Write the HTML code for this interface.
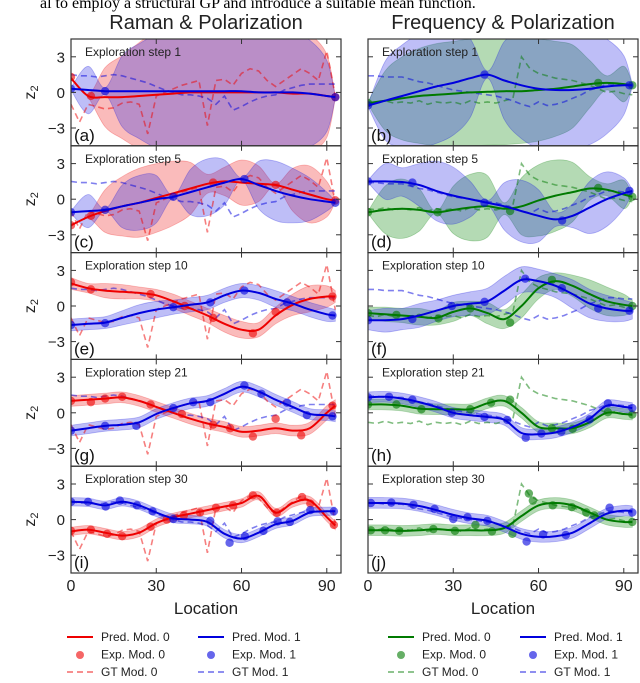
<!DOCTYPE html>
<html><head><meta charset="utf-8"><style>
html,body{margin:0;padding:0;background:#fff;}
svg{display:block;font-family:"Liberation Sans","DejaVu Sans",sans-serif;}
</style></head><body>
<svg id="chart" width="640" height="683" viewBox="0 0 640 683" xmlns="http://www.w3.org/2000/svg">
<text x="40" y="8" font-family="Liberation Serif, serif" font-size="16" fill="#000">al to employ a structural GP and introduce a suitable mean function.</text>
<g id="g"></g>
</svg>
<script>
const grid=[0,6,12,18,24,30,36,42,48,54,60,66,72,78,84,90,93];
const xTicks=[0,30,60,90];
const yTicks=[3,0,-3];
const colTitles=["Raman & Polarization","Frequency & Polarization"];
const steps=[1,5,10,21,30];
const labels=["a","b","c","d","e","f","g","h","i","j"];
// GT curves (x every 3)
const gtX=[0,3,6,9,12,15,18,21,24,27,30,33,36,39,42,45,48,51,54,57,60,63,66,69,72,75,78,81,84,87,90,93];
const gtL0=[-1,-2.5,-1,-1.2,-1.4,-1.3,-0.9,-0.8,-1,-3.5,-0.3,0,0.3,0.6,0.8,1,-2.8,1,1.1,0.6,1.6,2,1.8,1,0.5,1,1.5,2,1.6,1,3.5,-0.3];
const gtL1=[1.5,1.4,1.4,1.3,1.4,1.5,1.4,1.2,1,0.8,0.5,0.2,0,-0.2,-0.2,-0.3,-0.5,-1,-0.3,-1.5,-1.2,-0.8,-0.5,-0.3,-0.2,0.2,0.4,0.6,0.7,0.7,0.7,0.7];
const gtR0=[-0.8,-0.9,-0.7,-0.9,-0.8,-0.9,-0.7,-1,-0.8,-0.9,-0.8,-1,-0.7,-0.9,-0.8,-0.9,-0.7,-0.5,3,2,1.6,1.4,1.2,1.1,1,0.8,0.6,0.3,0,0.1,-0.1,-0.2];
const gtR1=[1.4,1.4,1.3,1.3,1.3,1.1,0.9,0.8,0.6,0.4,0.2,0.1,0,-0.1,-0.2,-0.3,-0.5,-0.7,-1,-1.2,-0.8,-1.1,-1,-0.8,-0.5,-0.2,0.2,0.4,0.7,0.7,0.6,0.6];
// panel a
const aM0=[1.2,-0.3,-0.4,-0.4,-0.3,-0.2,-0.1,0,0,0,0,0,0,-0.1,-0.1,-0.3,-0.4];
const aH0=[0.1,0.1,2.5,3.5,4.5,5.5,6,6,6,6,6,6,6,5.5,5,3.5,0.1];
const aM1=[0.3,0.2,0.1,0.1,0.1,0.1,0.1,0.1,0.1,0.1,0.1,0,0,0,-0.1,-0.3,-0.4];
const aH1=[0.1,2,0.3,3,4,4.8,5.3,5.5,5.5,5.5,5.5,5.5,5.3,5,4.5,3,0.1];
const aEx0=[0,7,93], aEy0=[1.3,-0.3,-0.4], aEx1=[0,12,93], aEy1=[0.3,0.1,-0.4];
// panel c
const cM0=[-2.2,-1.5,-1,-0.6,-0.3,0.1,0.5,0.9,1.3,1.5,1.4,1.3,1.2,0.8,0.4,0,-0.1];
const cH0=[0.1,0.1,1.8,2.5,2.9,2.9,2.7,2.2,0.8,1.2,1.9,1.5,0.1,1.8,2.4,1.5,0.1];
const cM1=[-1.1,-1,-0.9,-0.6,-0.3,0,0.2,0.6,1,1.4,1.7,1.2,0.7,0.3,0,-0.2,-0.3];
const cH1=[0.1,1.4,0.1,1.8,2.3,2,0.1,1.9,2.4,1.9,0.1,2,2.5,2.3,1.8,0.8,0.1];
const cEx0=[0,7,50,72,93], cEy0=[-2.2,-1.4,1.4,1.2,-0.1], cEx1=[0,12,36,61,93], cEy1=[-1.1,-0.9,0.2,1.7,-0.3];
// panel e
const eM0=[1.9,1.5,1.3,1.2,1.1,0.9,0.4,-0.2,-0.8,-1.5,-2,-2,-0.8,0.1,0.6,0.8,0.8];
const eH0=[0.5,0.4,0.6,0.6,0.5,0.5,0.6,0.6,0.6,0.7,0.7,0.6,0.7,0.9,1.1,0.9,0.5];
const eM1=[-1.6,-1.5,-1.4,-1,-0.6,-0.3,-0.1,0.1,0.3,0.9,1.3,1.1,0.6,0.2,-0.3,-0.7,-0.8];
const eH1=[0.5,0.5,0.5,0.6,0.7,0.7,0.6,0.6,0.6,0.6,0.6,0.6,0.7,0.6,0.6,0.6,0.5];
const eEx0=[0,7,28,40,50,64,72,92], eEy0=[2,1.4,1,0,-1,-2.3,-0.5,0.8], eEx1=[0,12,36,49,61,76,92], eEy1=[-1.6,-1.45,-0.1,0.3,1.3,0.3,-0.8];
// panel g
const gM0=[1,1.1,1.2,1.3,1,0.5,0,-0.5,-0.9,-1.2,-1.6,-1.5,-1.3,-1.5,-1.3,0,0.6];
const gH0=[0.45,0.45,0.45,0.45,0.45,0.45,0.45,0.45,0.45,0.45,0.45,0.45,0.45,0.45,0.5,0.6,0.5];
const gM1=[-1.5,-1.3,-1.1,-1,-0.8,-0.1,0.4,0.8,1,1.6,2.2,1.8,1.1,0.5,-0.1,-0.2,-0.3];
const gH1=[0.45,0.45,0.45,0.45,0.45,0.45,0.45,0.45,0.45,0.45,0.45,0.45,0.45,0.45,0.45,0.45,0.45];
const gEx0=[0,7,12,18,28,39,50,56,64,72,81,92], gEy0=[1,0.9,1.2,1.35,0.7,-0.1,-1,-1.3,-2,-0.5,-1.9,0.6];
const gEx1=[0,12,23,36,43,49,61,67,76,83,92], gEy1=[-1.5,-1.1,-1.1,0.4,0.9,0.9,2.3,1.6,0.85,-0.2,-0.3];
// panel i
const iM0=[-1,-0.85,-1.1,-1.35,-1.1,-0.3,0.2,0.5,0.8,1.1,1.4,2,0.6,1.4,1.6,0.2,-0.5];
const iH0=[0.35,0.35,0.35,0.35,0.35,0.35,0.35,0.35,0.35,0.35,0.35,0.35,0.35,0.35,0.35,0.35,0.35];
const iM1=[1.5,1.45,1.2,1.5,1.2,0.6,0.1,0,-0.2,-1.2,-1.6,-1.1,-0.4,-0.1,0.6,0.7,0.7];
const iH1=[0.35,0.35,0.35,0.35,0.35,0.35,0.35,0.35,0.35,0.35,0.35,0.35,0.35,0.35,0.35,0.35,0.35];
const iEx0=[0,7,12.7,18,28,33.7,39.7,45.4,51,57,64,72.4,81.3,84.2,92.5], iEy0=[-0.95,-0.85,-1.2,-1.4,-0.6,0,0.35,0.6,1,1.2,2.05,0.57,1.9,1.35,-0.45];
const iEx1=[0,6,12.2,17.2,23.2,28.7,36,49,55.8,61.2,67.7,72.7,77,84.2,92.5], iEy1=[1.5,1.5,1.1,1.6,1.2,0.7,0.05,-0.1,-1.95,-1.4,-0.95,-0.15,-0.2,0.8,0.7];
// panel b
const bM0=[-0.9,-0.7,-0.5,-0.3,-0.2,-0.1,0,0.05,0.1,0.1,0.2,0.3,0.5,0.7,0.8,0.7,0.6];
const bH0=[0.1,2.5,3.5,4,4.3,4.4,4.5,4.5,4.5,4.4,4.3,4,3.5,2,0.6,1.5,0.1];
const bM1=[-1.1,-0.7,-0.3,0.1,0.5,0.8,1.2,1.5,1,0.6,0.3,0.2,0.2,0.3,0.5,0.6,0.6];
const bH1=[0.1,3.3,4.3,4.8,4.8,4.4,3.3,0.3,3.3,4.5,5,5,5,4.7,4,2.5,0.1];
const bEx0=[0,81,93], bEy0=[-0.9,0.8,0.6], bEx1=[0,41,92], bEy1=[-1.1,1.5,0.6];
// panel d
const dM0=[-1.1,-0.9,-0.8,-0.9,-1.1,-0.9,-0.7,-0.6,-0.8,-0.6,-0.1,0.3,0.6,0.9,0.8,0.4,0.2];
const dH0=[0.1,2,2.5,1.8,0.1,2,2.8,2.6,0.5,2.4,3,3,2.5,1,0.5,1.2,0.1];
const dM1=[1.5,1.5,1.45,1.2,0.7,0.3,0,-0.3,-0.6,-1,-1.4,-1.7,-1.4,-0.7,0,0.5,0.7];
const dH1=[0.1,1.5,1.2,1.8,2.5,2.4,1.5,0.2,2,2.6,2.2,0.6,1,2.2,2.3,1.3,0.1];
const dEx0=[0,24.5,50,81,93], dEy0=[-1.1,-1.1,-1,0.95,0.2], dEx1=[0,15.6,41,68.3,92], dEy1=[1.5,1.4,-0.3,-1.8,0.7];
// panel f
const fM0=[-0.6,-0.7,-0.8,-0.9,-1,-0.5,-0.2,-0.6,-1.1,0,1.5,2.1,1.7,1,0.4,0.1,0];
const fH0=[0.5,0.6,0.6,0.7,0.6,0.8,0.6,0.9,0.8,1,0.9,0.7,0.9,1.2,1.2,0.9,0.5];
const fM1=[-1.2,-1.2,-1.1,-0.8,-0.4,0,0.2,0.4,1.3,2.2,2.1,1.7,1,0.2,-0.2,-0.4,-0.4];
const fH1=[0.8,1,0.9,1,0.9,0.9,1,1.1,1.2,1.1,1,1,1.2,1.2,1.1,0.9,0.7];
const fEx0=[0,10,24.8,36,50,64.7,93], fEy0=[-0.6,-0.75,-1.05,-0.2,-1.4,2.2,0];
const fEx1=[0,15.6,29.5,41,55.3,68.2,81,92], fEy1=[-1.2,-1.1,0,0.35,2.3,1.5,-0.2,-0.4];
// panel h
const hM0=[0.7,0.7,0.6,0.35,0.3,0.3,0.3,0.8,1,0,-1.2,-1.3,-1.3,-0.8,0,-0.1,-0.15];
const hH0=[0.45,0.45,0.45,0.45,0.45,0.45,0.45,0.45,0.45,0.45,0.45,0.45,0.45,0.45,0.45,0.45,0.45];
const hM1=[1.3,1.35,1.2,0.9,0.5,0,-0.2,-0.35,-0.6,-1.7,-1.8,-1.65,-1.2,-0.5,0.6,0.5,0.4];
const hH1=[0.45,0.45,0.45,0.45,0.45,0.45,0.45,0.45,0.45,0.45,0.45,0.45,0.45,0.45,0.45,0.45,0.45];
const hEx0=[0,10,18.8,36,43.3,50,64.7,72,84.4,93], hEy0=[0.7,0.7,0.3,0.3,0.85,1.1,-1.3,-1.35,0.05,-0.15];
const hEx1=[0,7.4,15.6,29.5,41,49,55.5,61,68,78,84.4,93], hEy1=[1.3,1.35,1.1,0,-0.35,-0.6,-2.1,-1.75,-1.6,-0.55,0.8,0.4];
// panel j
const jM0=[-0.9,-0.9,-0.95,-0.9,-0.8,-0.9,-0.9,-0.9,-0.7,0.3,1.2,1.4,1.2,0.6,0,-0.2,-0.2];
const jH0=[0.45,0.45,0.45,0.45,0.45,0.45,0.45,0.45,0.45,0.45,0.45,0.45,0.45,0.45,0.45,0.45,0.45];
const jM1=[1.4,1.4,1.35,1.15,0.8,0.4,0.1,-0.1,-0.6,-1.2,-1.45,-1.4,-1.1,-0.3,0.5,0.75,0.7];
const jH1=[0.45,0.45,0.45,0.45,0.45,0.45,0.45,0.45,0.45,0.45,0.45,0.45,0.45,0.45,0.45,0.45,0.45];
const jEx0=[1,6,11,23,30.6,37.8,43.6,50.8,56.6,58,65,71.7,76.8,79.6,93], jEy0=[-0.9,-0.9,-0.95,-0.8,-0.95,-0.45,-1,-1.2,2.2,1.6,1.2,1.05,0.6,0.35,-0.2];
const jEx1=[1,8.2,16,23.4,30,35,42,55.8,61.6,69.6,85,93], jEy1=[1.4,1.43,1.25,0.9,0.05,0.2,-0.1,-1.85,-1.25,-1.3,1,0.6];

const panels=[
 [aM0,aH0,aM1,aH1,aEx0,aEy0,aEx1,aEy1],[bM0,bH0,bM1,bH1,bEx0,bEy0,bEx1,bEy1],
 [cM0,cH0,cM1,cH1,cEx0,cEy0,cEx1,cEy1],[dM0,dH0,dM1,dH1,dEx0,dEy0,dEx1,dEy1],
 [eM0,eH0,eM1,eH1,eEx0,eEy0,eEx1,eEy1],[fM0,fH0,fM1,fH1,fEx0,fEy0,fEx1,fEy1],
 [gM0,gH0,gM1,gH1,gEx0,gEy0,gEx1,gEy1],[hM0,hH0,hM1,hH1,hEx0,hEy0,hEx1,hEy1],
 [iM0,iH0,iM1,iH1,iEx0,iEy0,iEx1,iEy1],[jM0,jH0,jM1,jH1,jEx0,jEy0,jEx1,jEy1]];

const NS="http://www.w3.org/2000/svg";
const root=document.getElementById('g');
function mk(tag,attrs,parent){const e=document.createElementNS(NS,tag);for(const k in attrs)e.setAttribute(k,attrs[k]);(parent||root).appendChild(e);return e;}
const colX=[71,368], PW=270, PT=39, PH=106.8;
const colors=[["#ee0000","#0000dd"],["#007a00","#0000dd"]];
const fills=[["rgba(240,60,60,0.35)","rgba(40,40,230,0.3)"],["rgba(40,150,40,0.35)","rgba(40,40,230,0.3)"]];
const gts=[[gtL0,gtL1],[gtR0,gtR1]];
function smooth(pts){let d="M"+pts[0][0].toFixed(1)+","+pts[0][1].toFixed(1);
 for(let i=0;i<pts.length-1;i++){const p0=pts[Math.max(0,i-1)],p1=pts[i],p2=pts[i+1],p3=pts[Math.min(pts.length-1,i+2)];
 const c1=[p1[0]+(p2[0]-p0[0])/6,p1[1]+(p2[1]-p0[1])/6],c2=[p2[0]-(p3[0]-p1[0])/6,p2[1]-(p3[1]-p1[1])/6];
 d+=" C"+c1.map(v=>v.toFixed(1))+" "+c2.map(v=>v.toFixed(1))+" "+p2[0].toFixed(1)+","+p2[1].toFixed(1);}
 return d;}
function line(pts){return "M"+pts.map(p=>p[0].toFixed(1)+","+p[1].toFixed(1)).join(" L");}

for(let c=0;c<2;c++){
 const x0=colX[c];
 const xs=v=>x0+v/95*PW;
 const t=mk('text',{x:x0+PW/2,y:29,'text-anchor':'middle','font-size':20,fill:'#222'});
 
 
 t.textContent=colTitles[c];
 for(let r=0;r<5;r++){
  const top=PT+r*PH, p=panels[r*2+c];
  const ys=v=>top+PH/2-v*(PH/9);
  const g=mk('g',{});
  
  
  const cid='clip'+c+r;
  const cp=mk('clipPath',{id:cid},g);mk('rect',{x:x0,y:top,width:PW,height:PH},cp);
  const inner=mk('g',{'clip-path':'url(#'+cid+')'},g);
  for(let m=0;m<2;m++){
   const mean=p[m*2],hw=p[m*2+1];
   const up=grid.map((x,i)=>[xs(x),ys(mean[i]+hw[i])]);
   const lo=grid.map((x,i)=>[xs(x),ys(mean[i]-hw[i])]).reverse();
   const band=mk('path',{d:smooth(up)+" L"+smooth(lo).slice(1)+" Z",fill:fills[c][m],stroke:colors[c][m],'stroke-opacity':0.25,'stroke-width':0.8},inner);
   
   
  }
  for(let m=0;m<2;m++){
   const gt=mk('path',{d:line(gtX.map((x,i)=>[xs(x),ys(gts[c][m][i])])),fill:'none',stroke:colors[c][m],'stroke-opacity':0.5,'stroke-width':1.6,'stroke-dasharray':'6,4'},inner);
   
   
  }
  for(let m=0;m<2;m++){
   const pl=mk('path',{d:smooth(grid.map((x,i)=>[xs(x),ys(p[m*2][i])])),fill:'none',stroke:colors[c][m],'stroke-width':2},inner);
   
   
   const ex=p[4+m*2],ey=p[5+m*2];
   for(let k=0;k<ex.length;k++){
    const pt=mk('circle',{cx:xs(ex[k]),cy:ys(ey[k]),r:4.2,fill:colors[c][m],'fill-opacity':0.6},inner);
    
    
   }
  }
  const fr=mk('rect',{x:x0,y:top,width:PW,height:PH,fill:'none',stroke:'#333','stroke-width':1.2},g);
  
  
  for(const v of xTicks){
   mk('line',{x1:xs(v),x2:xs(v),y1:top,y2:top+5,stroke:'#333'},g);
   mk('line',{x1:xs(v),x2:xs(v),y1:top+PH,y2:top+PH-5,stroke:'#333'},g);
  }
  for(const v of yTicks){
   mk('line',{x1:x0,x2:x0+5,y1:ys(v),y2:ys(v),stroke:'#333'},g);
   mk('line',{x1:x0+PW,x2:x0+PW-5,y1:ys(v),y2:ys(v),stroke:'#333'},g);
   if(c===0){const tl=mk('text',{x:x0-6,y:ys(v)+5.5,'text-anchor':'end','font-size':15,fill:'#222'},g);
    
    
    tl.textContent=v<0?"\u2212"+(-v):String(v);}
  }
  const st=mk('text',{x:x0+14,y:top+17,'font-size':12,fill:'#222'},g);
  
  
  st.textContent="Exploration step "+steps[r];
  const pl=mk('text',{x:x0+3,y:top+PH-5,'font-size':17,fill:'#111'},g);
  
  
  pl.textContent="("+labels[r*2+c]+")";
  if(c===0){const yl=mk('text',{x:0,y:0,transform:'translate(35,'+(top+PH/2)+') rotate(-90)','text-anchor':'middle','font-size':16,fill:'#222'},g);
   
   
   yl.innerHTML='z<tspan font-size="11" dy="3">2</tspan>';}
 }
 const bot=PT+5*PH;
 for(const v of xTicks){const tl=mk('text',{x:xs(v),y:bot+18,'text-anchor':'middle','font-size':16,fill:'#222'});
  
  
  tl.textContent=String(v);}
 const xl=mk('text',{x:x0+PW/2,y:bot+41,'text-anchor':'middle','font-size':17,fill:'#222'});
 
 
 xl.textContent="Location";
 const lx=[[67,198],[388,520]][c];
 const lg=mk('g',{});
 
 
 for(let m=0;m<2;m++){
  const L=lx[m];
  mk('line',{x1:L,x2:L+26,y1:637,y2:637,stroke:colors[c][m],'stroke-width':2},lg);
  mk('circle',{cx:L+13,cy:655,r:4,fill:colors[c][m],'fill-opacity':0.6},lg);
  mk('line',{x1:L,x2:L+26,y1:672,y2:672,stroke:colors[c][m],'stroke-opacity':0.5,'stroke-width':1.8,'stroke-dasharray':'6,4'},lg);
  const names=["Pred. Mod. ","Exp. Mod. ","GT Mod. "];
  for(let k=0;k<3;k++){const tt=mk('text',{x:L+34,y:641+k*17.5,'font-size':12,fill:'#222'},lg);
   
   
   tt.textContent=names[k]+m;}
 }
}
</script>
</body></html>
